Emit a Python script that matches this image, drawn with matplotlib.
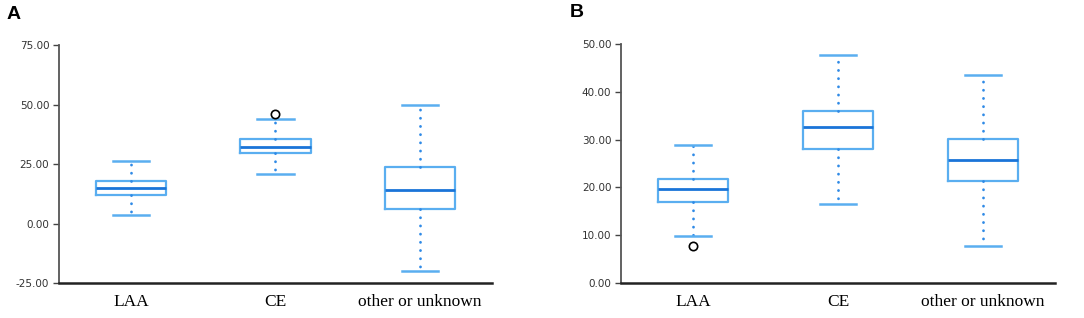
import matplotlib
matplotlib.use("Agg")
import matplotlib.pyplot as plt

categories = ["LAA", "CE", "other or unknown"]

# panel A
a_whislo = [3.7, 20.9, -19.8]
a_q1 = [11.9, 29.5, 6.2]
a_med = [15.0, 32.2, 14.1]
a_q3 = [17.8, 35.5, 23.6]
a_whishi = [26.2, 44.1, 49.8]
a_fliers = [[], [45.9], []]
a_ticks = [-25, 0, 25, 50, 75]

# panel B
b_whislo = [9.8, 16.6, 7.7]
b_q1 = [17.0, 28.1, 21.3]
b_med = [19.7, 32.6, 25.7]
b_q3 = [21.7, 36.0, 30.2]
b_whishi = [28.9, 47.8, 43.6]
b_fliers = [[7.7], [], []]
b_ticks = [0, 10, 20, 30, 40, 50]

BOX = "#5aaef0"
MED = "#1a74d8"
WHISK = "#2f8ae6"


def draw_panel(ax, lo, q1, med, q3, hi, fl, ticks):
    stats = []
    for i in range(len(categories)):
        stats.append(dict(label=categories[i], whislo=lo[i], q1=q1[i], med=med[i],
                          q3=q3[i], whishi=hi[i], fliers=fl[i]))
    res = ax.bxp(stats, positions=range(len(categories)), widths=0.485, showfliers=True,
                 boxprops=dict(color=BOX, linewidth=1.6),
                 medianprops=dict(color=MED, linewidth=2.0),
                 whiskerprops=dict(color=WHISK, linewidth=2.0, linestyle=(0, (0.05, 2.9))),
                 capprops=dict(color=BOX, linewidth=1.8),
                 capwidths=0.25,
                 flierprops=dict(marker="o", markerfacecolor="none", markeredgecolor="black",
                                 markersize=6, markeredgewidth=1.2))
    for w in res["whiskers"]:
        w.set_dash_capstyle("round")
    ax.set_xlim(-0.5, 2.5)
    ax.set_ylim(ticks[0], ticks[-1])
    ax.set_yticks(ticks)
    ax.set_yticklabels([f"{t:.2f}" for t in ticks],
                       family=["Liberation Sans Narrow", "DejaVu Sans"], fontsize=7.5,
                       color="#333333")
    ax.set_xticks(range(len(categories)))
    ax.set_xticklabels(categories, family="Liberation Serif", fontsize=12.5)
    ax.tick_params(axis="x", length=0, pad=8)
    ax.tick_params(axis="y", length=4, width=1, color="#444444", pad=3)
    for s in ["top", "right"]:
        ax.spines[s].set_visible(False)
    ax.spines["left"].set_color("#555555")
    ax.spines["left"].set_linewidth(1.3)
    ax.spines["bottom"].set_color("#222222")
    ax.spines["bottom"].set_linewidth(1.8)


fig = plt.figure(figsize=(10.84, 3.18), dpi=100)
axA = fig.add_axes([0.0544, 0.110, 0.3995, 0.748])
axB = fig.add_axes([0.5729, 0.111, 0.4004, 0.750])

draw_panel(axA, a_whislo, a_q1, a_med, a_q3, a_whishi, a_fliers, a_ticks)
draw_panel(axB, b_whislo, b_q1, b_med, b_q3, b_whishi, b_fliers, b_ticks)

fig.text(0.006, 0.955, "A", fontsize=14, fontweight="bold", family="Liberation Sans", va="center")
fig.text(0.526, 0.962, "B", fontsize=14, fontweight="bold", family="Liberation Sans", va="center")

fig.savefig("out.png", dpi=100)
